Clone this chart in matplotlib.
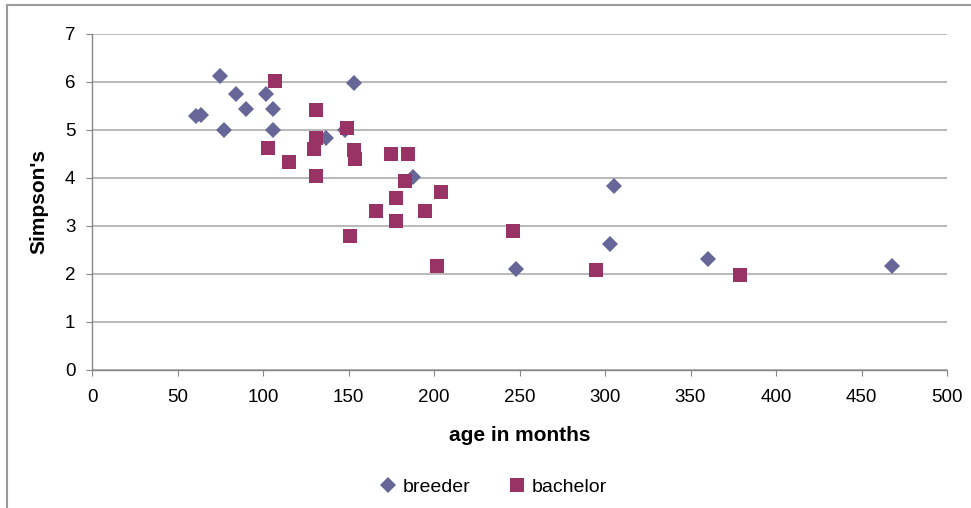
import matplotlib
matplotlib.use("Agg")
import matplotlib.pyplot as plt
from matplotlib.lines import Line2D

plt.rcParams['font.family'] = ['Liberation Sans', 'DejaVu Sans']

# breeder (age in months, Simpson's)
breeder_age = [61, 64, 75, 77, 84, 90, 102, 106, 106, 137, 148, 153, 188, 248, 303, 305, 360, 468]
breeder_simp = [5.29, 5.31, 6.13, 5.0, 5.75, 5.44, 5.75, 5.44, 5.0, 4.83, 5.01, 5.98, 4.02, 2.1, 2.63, 3.83, 2.31, 2.17]

# bachelor
bachelor_age = [107, 103, 115, 131, 130, 131, 131, 149, 153, 154, 151, 166, 175, 185, 178, 178, 183, 195, 204, 202, 246, 295, 379]
bachelor_simp = [6.03, 4.62, 4.33, 5.42, 4.6, 4.83, 4.04, 5.04, 4.58, 4.4, 2.79, 3.31, 4.5, 4.5, 3.58, 3.1, 3.94, 3.31, 3.71, 2.17, 2.9, 2.08, 1.98]

breeder_col = '#666699'
bachelor_col = '#993366'
grey = '#868686'

fig = plt.figure(figsize=(9.71, 5.08), dpi=100)
ax = fig.add_axes([92/971, 138/508, 855/971, 336/508])

ax.plot(breeder_age, breeder_simp, 'D', color=breeder_col, ms=8.2, mew=0, label='breeder', zorder=3)
ax.plot(bachelor_age, bachelor_simp, 's', color=bachelor_col, ms=10.5, mew=0, label='bachelor', zorder=4)

ax.set_xlim(0, 500)
ax.set_ylim(0, 7)
ax.set_xticks(range(0, 501, 50))
ax.set_yticks(range(0, 8))
ax.grid(axis='y', color='#b3b3b3', lw=1.3)
ax.set_axisbelow(True)
for s in ['top', 'right']:
    ax.spines[s].set_visible(False)
for s in ['left', 'bottom']:
    ax.spines[s].set_color(grey)
    ax.spines[s].set_linewidth(1.0)
ax.tick_params(direction='out', length=4, color=grey, labelsize=13.5)
ax.tick_params(axis='x', pad=10)
ax.tick_params(axis='y', pad=8)

ax.set_xlabel('age in months', fontsize=15, fontweight='bold', labelpad=14)
ax.set_ylabel("Simpson's", fontsize=15, fontweight='bold', labelpad=12)

handles = [Line2D([], [], marker='D', ls='', color=breeder_col, ms=8.2, mew=0),
           Line2D([], [], marker='s', ls='', color=bachelor_col, ms=10.5, mew=0)]
fig.legend(handles, ['breeder', 'bachelor'], loc='center', bbox_to_anchor=(492/971, 1-487/508),
           ncol=2, frameon=False, fontsize=14, handletextpad=0.15, columnspacing=1.8,
           handlelength=1.2)

# chart frame
fig.add_artist(Line2D([7/971, 1], [1-5/508, 1-5/508], color='#9a9a9a', lw=1.5))
fig.add_artist(Line2D([7/971, 7/971], [0, 1-5/508], color='#9a9a9a', lw=1.5))

fig.savefig('out.png', dpi=100)
